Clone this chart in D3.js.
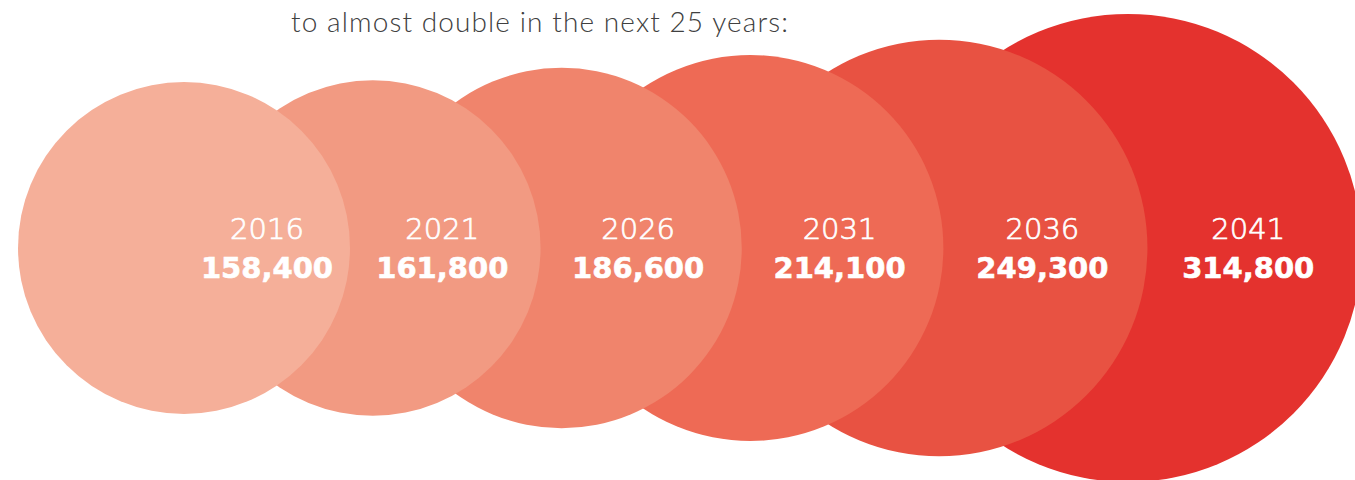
<!DOCTYPE html>
<html>
<head>
<meta charset="utf-8">
<script src="https://cdn.jsdelivr.net/npm/d3@7"></script>
<style>
  html, body { margin: 0; padding: 0; background: #ffffff; }
  svg { display: block; }
</style>
</head>
<body>
<svg id="chart" width="1355" height="480"></svg>
<script>
// ---- data ----
const years = ["2016", "2021", "2026", "2031", "2036", "2041"];
const population = [158400, 161800, 186600, 214100, 249300, 314800];
const colors = ["#F5AF99", "#F29A82", "#F0846C", "#EE6A55", "#E85242", "#E4322E"];
const titleText = "to almost double in the next 25 years:";

// ---- layout ----
const W = 1355, H = 480;
const cy = 248;
const svg = d3.select("#chart");

const x = d3.scalePoint().domain(years).range([184, 1128]);
const r = d3.scaleSqrt().domain([0, d3.max(population)]).range([0, 234]);

const data = years.map((y, i) => ({ year: y, value: population[i], color: colors[i], i }));
data.forEach((d, i) => {
  const cx = x(d.year), rr = r(d.value);
  const left = i === 0 ? cx : x(data[i - 1].year) + r(data[i - 1].value);
  const right = Math.min(cx + rr, W);
  d.lx = (left + right) / 2 - (i === 0 ? 0 : 3);
});

// circles: later (larger) circles underneath
svg.append("g")
  .selectAll("circle")
  .data(data.slice().reverse())
  .join("circle")
  .attr("cx", d => x(d.year))
  .attr("cy", cy)
  .attr("r", d => r(d.value))
  .attr("fill", d => d.color);

const fmt = d3.format(",");
const labels = svg.append("g").attr("fill", "#ffffff").attr("text-anchor", "middle");
labels.selectAll("text.year")
  .data(data)
  .join("text")
  .attr("class", "year")
  .attr("x", d => d.lx)
  .attr("y", 239)
  .attr("stroke", "#ffffff")
  .attr("stroke-width", 0.7)
  .style("font-family", "'DejaVu Sans', sans-serif")
  .style("font-weight", 200)
  .style("font-size", "29px")
  .text(d => d.year);
labels.selectAll("text.val")
  .data(data)
  .join("text")
  .attr("class", "val")
  .attr("x", d => d.lx)
  .attr("y", 278)
  .attr("stroke", "#ffffff")
  .attr("stroke-width", 0.6)
  .style("font-family", "'DejaVu Sans', sans-serif")
  .style("font-weight", 700)
  .style("font-size", "29px")
  .text(d => fmt(d.value));

// title
svg.append("text")
  .attr("x", 291)
  .attr("y", 32)
  .attr("fill", "#404040")
  .style("font-family", "Lato, sans-serif")
  .style("font-weight", 300)
  .style("font-size", "28px")
  .style("letter-spacing", "1.1px")
  .text(titleText);
</script>
</body>
</html>
